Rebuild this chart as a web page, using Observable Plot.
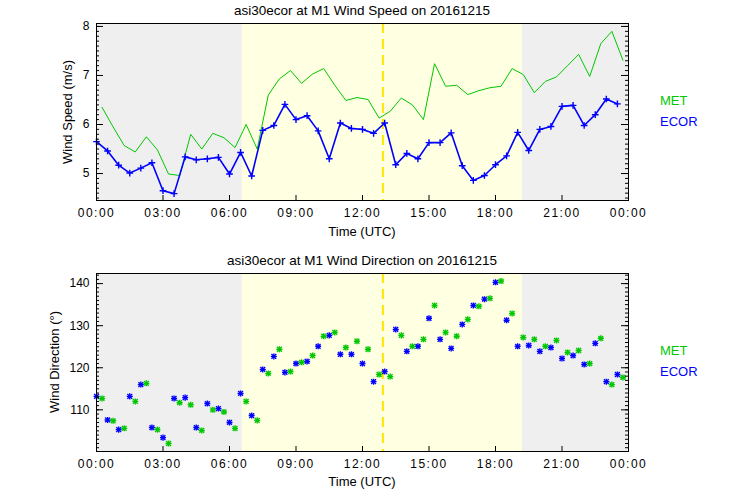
<!DOCTYPE html>
<html><head><meta charset="utf-8">
<script src="https://cdn.jsdelivr.net/npm/d3@7"></script>
<script src="https://cdn.jsdelivr.net/npm/@observablehq/plot@0.6"></script>
<style>
body{margin:0;background:#fff;}
#wrap{position:relative;width:740px;height:500px;overflow:hidden;}
#wrap svg{position:absolute;left:0;}
#wrap g[aria-label="x-axis tick label"] text{letter-spacing:1.5px;}
.lbl{position:absolute;line-height:1;white-space:nowrap;font-family:"Liberation Sans",Arial,sans-serif;color:#000;}
.c{transform:translate(-50%,-50%);}
.l{transform:translate(0,-50%);}
</style></head>
<body><div id="wrap"></div>
<script>
// ---- data ----
const ecorHour = [0,0.5,1,1.5,2,2.5,3,3.5,4,4.5,5,5.5,6,6.5,7,7.5,8,8.5,9,9.5,10,10.5,11,11.5,12,12.5,13,13.5,14,14.5,15,15.5,16,16.5,17,17.5,18,18.5,19,19.5,20,20.5,21,21.5,22,22.5,23,23.5];
const metHour = [0.25,0.75,1.25,1.75,2.25,2.75,3.25,3.75,4.25,4.75,5.25,5.75,6.25,6.75,7.25,7.75,8.25,8.75,9.25,9.75,10.25,10.75,11.25,11.75,12.25,12.75,13.25,13.75,14.25,14.75,15.25,15.75,16.25,16.75,17.25,17.75,18.25,18.75,19.25,19.75,20.25,20.75,21.25,21.75,22.25,22.75,23.25,23.75];
const ecorSpeed = [5.65,5.46,5.17,5.01,5.11,5.22,4.65,4.59,5.34,5.28,5.30,5.33,4.99,5.43,4.95,5.88,5.98,6.41,6.10,6.18,5.87,5.30,6.03,5.92,5.90,5.82,6.03,5.18,5.41,5.30,5.63,5.63,5.83,5.16,4.86,4.96,5.18,5.36,5.84,5.47,5.90,5.96,6.37,6.39,5.98,6.20,6.52,6.42];
const metSpeed = [6.35,5.95,5.57,5.44,5.75,5.48,4.99,4.96,5.80,5.50,5.82,5.73,5.53,6.00,5.50,6.60,6.93,7.10,6.84,7.03,7.14,6.80,6.49,6.55,6.51,6.13,6.27,6.54,6.40,6.10,7.24,6.78,6.80,6.61,6.69,6.75,6.78,7.14,7.02,6.65,6.88,6.97,7.20,7.43,6.98,7.65,7.90,7.31];
const ecorDir = [113.2,107.6,105.3,113.2,116.0,105.8,103.4,112.7,112.9,105.8,111.5,110.3,107.0,113.9,108.65,119.6,122.7,118.9,121.0,121.5,125.1,127.7,123.2,123.2,121.0,116.7,119.1,129.1,123.9,125.1,131.75,126.75,124.6,130.3,134.8,136.3,140.3,131.3,125.1,125.3,123.9,124.8,122.2,122.9,120.8,125.8,116.7,118.4];
const metDir = [112.7,107.4,105.6,112.0,116.3,105.3,102.0,111.7,111.2,105.1,110.0,109.5,105.6,112.0,107.5,118.65,124.4,119.1,121.3,122.9,127.5,128.4,124.8,126.3,124.4,118.4,117.9,127.7,125.1,126.75,134.8,128.4,127.5,131.5,134.6,136.5,140.6,132.9,127.2,126.75,125.1,126.5,123.65,124.1,121.0,127.0,116.0,117.7];
const sunrise = 6.58, sunset = 19.22, markerHour = 12.92;
const xTicks = [0,3,6,9,12,15,18,21,24];
const speedTicks = [5,6,7,8];
const dirTicks = [110,120,130,140];
const seriesNames = ["MET","ECOR"];
const titles = ["asi30ecor at M1 Wind Speed on 20161215","asi30ecor at M1 Wind Direction on 20161215"];
const yLabels = ["Wind Speed (m/s)","Wind Direction (°)"];
const xLabel = "Time (UTC)";

// ---- styling ----
const GREEN = "#00c800", BLUE = "#0000ff";
const W = 740, H = 250, ML = 96, MR = 112, MT = 23;
const FW = W - ML - MR;
const fmt = h => String(h % 24).padStart(2, "0") + ":00";
const yLabelX = [67, 54];

const ecor = ecorHour.map((h, i) => ({h, speed: ecorSpeed[i], dir: ecorDir[i]}));
const met = metHour.map((h, i) => ({h, speed: metSpeed[i], dir: metDir[i]}));

function panel(opts) {
  const {yDomain, major, minorStep, mb, marks} = opts;
  const FH = H - MT - mb;
  const minor = d3.range(Math.ceil(yDomain[0] / minorStep) * minorStep, yDomain[1] + 1e-9, minorStep).map(v => +v.toFixed(3));
  return Plot.plot({
    width: W, height: H, marginLeft: ML, marginRight: MR, marginTop: MT, marginBottom: mb,
    style: {background: "transparent", fontFamily: "Liberation Sans, Arial, sans-serif", fontSize: "12px", color: "#000", overflow: "visible"},
    x: {domain: [0, 24]},
    y: {domain: yDomain},
    marks: [
      Plot.rect([{a: 0, b: sunrise}, {a: sunset, b: 24}], {x1: "a", x2: "b", fill: "#efefef"}),
      Plot.rect([{a: sunrise, b: sunset}], {x1: "a", x2: "b", fill: "#ffffe2"}),
      Plot.ruleX([markerHour], {stroke: "#ffe600", strokeWidth: 2, strokeDasharray: "10,6"}),
      ...marks,
      Plot.tickY(minor, {y: d => d, insetRight: FW - 3, stroke: "#000"}),
      Plot.tickY(minor, {y: d => d, insetLeft: FW - 3, stroke: "#000"}),
      Plot.tickY(major, {y: d => d, insetRight: FW - 7, stroke: "#000"}),
      Plot.tickY(major, {y: d => d, insetLeft: FW - 7, stroke: "#000"}),
      Plot.tickX(xTicks, {x: d => d, insetTop: FH - 5, stroke: "#000"}),
      Plot.axisX({ticks: xTicks, tickSize: 0, tickPadding: 8, tickFormat: fmt, label: null}),
      Plot.axisY({ticks: major, tickSize: 0, tickPadding: 7, tickFormat: d => String(d), label: null}),
      Plot.frame({stroke: "#000"})
    ]
  });
}

const topPanel = panel({
  yDomain: [4.45, 8.06], major: speedTicks, minorStep: 0.1, mb: 50,
  marks: [
    Plot.line(met, {x: "h", y: "speed", stroke: GREEN, strokeWidth: 1}),
    Plot.line(ecor, {x: "h", y: "speed", stroke: BLUE, strokeWidth: 1.6}),
    Plot.dot(ecor, {x: "h", y: "speed", symbol: "plus", r: 2.3, stroke: BLUE, strokeWidth: 1.4})
  ]
});
const bottomPanel = panel({
  yDomain: [100.1, 142.4], major: dirTicks, minorStep: 1, mb: 49,
  marks: [
    Plot.dot(ecor, {x: "h", y: "dir", symbol: "plus", r: 2.1, stroke: BLUE, strokeWidth: 1.4}),
    Plot.dot(ecor, {x: "h", y: "dir", symbol: "times", r: 2.3, stroke: BLUE, strokeWidth: 1.4}),
    Plot.dot(met, {x: "h", y: "dir", symbol: "plus", r: 2.1, stroke: GREEN, strokeWidth: 1.4}),
    Plot.dot(met, {x: "h", y: "dir", symbol: "times", r: 2.3, stroke: GREEN, strokeWidth: 1.4})
  ]
});

const wrap = document.getElementById("wrap");
topPanel.style.top = "0px";
bottomPanel.style.top = "250px";
wrap.appendChild(topPanel);
wrap.appendChild(bottomPanel);

function label(text, x, y, cls, extra = {}) {
  const d = document.createElement("div");
  d.className = "lbl " + cls;
  d.textContent = text;
  d.style.left = x + "px";
  d.style.top = y + "px";
  Object.assign(d.style, extra);
  wrap.appendChild(d);
}
const cx = ML + FW / 2;
[0, 250].forEach((off, i) => {
  label(titles[i], cx, off + 11, "c", {fontSize: "13.5px"});
  label(xLabel, cx, off + 231, "c", {fontSize: "13px"});
  label(yLabels[i], yLabelX[i], off + 112, "c", {fontSize: "13px", transform: "translate(-50%,-50%) rotate(-90deg)"});
  label(seriesNames[0], 660, off + 100, "l", {fontSize: "13px", color: GREEN});
  label(seriesNames[1], 660, off + 120.5, "l", {fontSize: "13px", color: BLUE});
});
</script>
</body></html>
